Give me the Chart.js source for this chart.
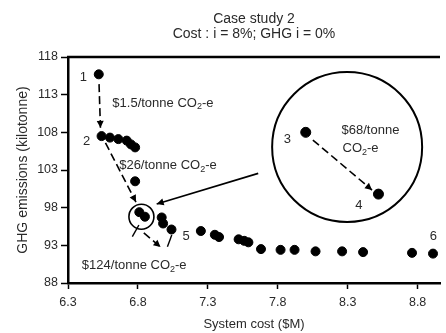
<!DOCTYPE html>
<html>
<head>
<meta charset="utf-8">
<script src="https://cdn.jsdelivr.net/npm/chart.js@4/dist/chart.umd.min.js"></script>
<style>
  html, body { margin: 0; padding: 0; background: #fff; }
  #wrap { width: 446px; height: 333px; }
</style>
</head>
<body>
<div id="wrap"><canvas id="chart"></canvas></div>
<script>
// system cost ($M) and GHG emissions (kilotonne) of each solution
const costs = [6.52, 6.54, 6.60, 6.66, 6.72, 6.75, 6.78, 6.78, 6.81, 6.85, 6.97, 6.98, 7.04,
  7.25, 7.35, 7.38, 7.52, 7.56, 7.59, 7.68, 7.82, 7.92, 8.07, 8.26, 8.41, 8.76, 8.91];
const emissions = [115.7, 107.5, 107.3, 107.1, 106.9, 106.4, 106.0, 101.5, 97.4, 96.8, 96.7, 95.9, 95.1,
  94.9, 94.4, 94.1, 93.8, 93.6, 93.4, 92.5, 92.4, 92.4, 92.2, 92.2, 92.1, 92.0, 91.9];

// zoomed view of solutions 3 and 4 (drawn inside the big circle)
const insetCosts = [8.0, 8.52];
const insetEmissions = [108.0, 99.8];

const xTicks = [6.3, 6.8, 7.3, 7.8, 8.3, 8.8];
const yTicks = [88, 93, 98, 103, 108, 113, 118];

const FONT = "'Liberation Sans', Arial, sans-serif";
const TXT = '#2a2a2a';

// annotation bits, positioned in axis units
const numberLabels = [
  { t: '1', x: 6.41, y: 115.35 },
  { t: '2', x: 6.434, y: 106.85 },
  { t: '5', x: 7.145, y: 94.24 },
  { t: '6', x: 8.913, y: 94.24 },
  { t: '3', x: 7.868, y: 107.07 },
  { t: '4', x: 8.38, y: 98.35 }
];
const costLabels = [
  { pre: '$1.5/tonne CO', post: '-e', x: 6.617, y: 111.9 },
  { pre: '$26/tonne CO', post: '-e', x: 6.666, y: 103.66 },
  { pre: '$124/tonne CO', post: '-e', x: 6.399, y: 90.3 },
  { pre: '$68/tonne', post: '', x: 8.256, y: 108.3, plain: true },
  { pre: 'CO', post: '-e', x: 8.263, y: 105.88 }
];
const dashedArrows = [
  [6.522, 114.4, 6.532, 108.6],
  [6.568, 106.6, 6.786, 98.75],
  [6.842, 94.64, 6.962, 92.78],
  [8.051, 106.98, 8.474, 100.34]
];
const solidArrows = [[7.66, 102.55, 6.934, 98.5]];
const leaderLines = [
  [6.76, 94.15, 6.807, 95.7],
  [7.011, 92.8, 7.042, 94.36]
];

function arrowHead(ctx, x1, y1, x2, y2) {
  const a = Math.atan2(y2 - y1, x2 - x1);
  const len = 7, w = 3.5;
  ctx.beginPath();
  ctx.moveTo(x2, y2);
  ctx.lineTo(x2 - len * Math.cos(a) + w * Math.sin(a), y2 - len * Math.sin(a) - w * Math.cos(a));
  ctx.lineTo(x2 - len * Math.cos(a) - w * Math.sin(a), y2 - len * Math.sin(a) + w * Math.cos(a));
  ctx.closePath();
  ctx.fill();
}

const annotations = {
  id: 'annotations',
  afterDatasetsDraw(chart) {
    const { ctx, chartArea, scales } = chart;
    const px = v => scales.x.getPixelForValue(v);
    const py = v => scales.y.getPixelForValue(v);
    ctx.save();
    ctx.strokeStyle = '#000';
    ctx.fillStyle = '#000';

    // top frame line
    ctx.lineWidth = 2.5;
    ctx.beginPath();
    ctx.moveTo(chartArea.left - 1, chartArea.top);
    ctx.lineTo(chartArea.right, chartArea.top);
    ctx.stroke();

    // circles
    ctx.lineWidth = 2;
    ctx.beginPath();
    ctx.arc(px(8.296), py(106.05), 75, 0, Math.PI * 2);
    ctx.stroke();
    ctx.lineWidth = 1.6;
    ctx.beginPath();
    ctx.arc(px(6.825), py(96.8), 12.5, 0, Math.PI * 2);
    ctx.stroke();

    // dashed arrows
    ctx.lineWidth = 1.6;
    dashedArrows.forEach(([a, b, c, d]) => {
      ctx.setLineDash([8, 4]);
      ctx.beginPath();
      ctx.moveTo(px(a), py(b));
      ctx.lineTo(px(c), py(d));
      ctx.stroke();
      ctx.setLineDash([]);
      arrowHead(ctx, px(a), py(b), px(c), py(d));
    });
    solidArrows.forEach(([a, b, c, d]) => {
      ctx.beginPath();
      ctx.moveTo(px(a), py(b));
      ctx.lineTo(px(c), py(d));
      ctx.stroke();
      arrowHead(ctx, px(a), py(b), px(c), py(d));
    });
    ctx.lineWidth = 1.4;
    leaderLines.forEach(([a, b, c, d]) => {
      ctx.beginPath();
      ctx.moveTo(px(a), py(b));
      ctx.lineTo(px(c), py(d));
      ctx.stroke();
    });

    // text
    ctx.fillStyle = TXT;
    ctx.textBaseline = 'middle';
    ctx.textAlign = 'center';
    ctx.font = '13px ' + FONT;
    numberLabels.forEach(l => ctx.fillText(l.t, px(l.x), py(l.y)));
    ctx.textAlign = 'left';
    costLabels.forEach(l => {
      let x = px(l.x);
      const y = py(l.y);
      ctx.font = '13px ' + FONT;
      ctx.fillText(l.pre, x, y);
      if (l.plain) return;
      x += ctx.measureText(l.pre).width;
      ctx.font = '9px ' + FONT;
      ctx.fillText('2', x, y + 4);
      x += ctx.measureText('2').width;
      ctx.font = '13px ' + FONT;
      ctx.fillText(l.post, x, y);
    });
    ctx.restore();
  }
};

const ctx = document.getElementById('chart').getContext('2d');
new Chart(ctx, {
  type: 'scatter',
  data: {
    datasets: [
      {
        data: costs.map((c, i) => ({ x: c, y: emissions[i] })),
        backgroundColor: '#000',
        borderColor: '#000',
        pointRadius: 4.5,
        pointHoverRadius: 4.5
      },
      {
        data: insetCosts.map((c, i) => ({ x: c, y: insetEmissions[i] })),
        backgroundColor: '#000',
        borderColor: '#000',
        pointRadius: 5,
        pointHoverRadius: 5
      }
    ]
  },
  options: {
    responsive: true,
    maintainAspectRatio: false,
    animation: false,
    layout: { padding: 0 },
    plugins: {
      legend: { display: false },
      tooltip: { enabled: false },
      title: {
        display: true,
        fullSize: false,
        text: ['Case study 2', 'Cost : i = 8%; GHG i = 0%'],
        color: TXT,
        font: { family: FONT, size: 14, weight: 'normal', lineHeight: 15 / 14 },
        padding: { top: 11.5, bottom: 15.5 }
      }
    },
    scales: {
      x: {
        type: 'linear',
        min: 6.3,
        max: 8.96,
        afterBuildTicks: s => { s.ticks = xTicks.map(v => ({ value: v })); },
        afterFit: s => { s.height = 50; },
        grid: { display: true, drawOnChartArea: false, drawTicks: true, tickLength: 6, tickColor: '#000', tickWidth: 1.5 },
        border: { color: '#000', width: 2.5 },
        ticks: {
          color: TXT,
          padding: 6,
          font: { family: FONT, size: 12.5 },
          callback: v => v.toFixed(1)
        },
        title: {
          display: true,
          text: 'System cost ($M)',
          color: TXT,
          font: { family: FONT, size: 13 },
          padding: { top: 0, bottom: 1 }
        }
      },
      y: {
        type: 'linear',
        min: 88,
        max: 118,
        afterBuildTicks: s => { s.ticks = yTicks.map(v => ({ value: v })); },
        afterFit: s => { s.width = 68; },
        grid: { display: true, drawOnChartArea: false, drawTicks: true, tickLength: 7, tickColor: '#000', tickWidth: 1.5 },
        border: { color: '#000', width: 2.5 },
        ticks: {
          color: TXT,
          padding: 3,
          font: { family: FONT, size: 12.5 }
        },
        title: {
          display: true,
          text: 'GHG emissions (kilotonne)',
          color: TXT,
          font: { family: FONT, size: 14 },
          padding: { top: 14.5, bottom: 0 }
        }
      }
    }
  },
  plugins: [annotations]
});
</script>
</body>
</html>
